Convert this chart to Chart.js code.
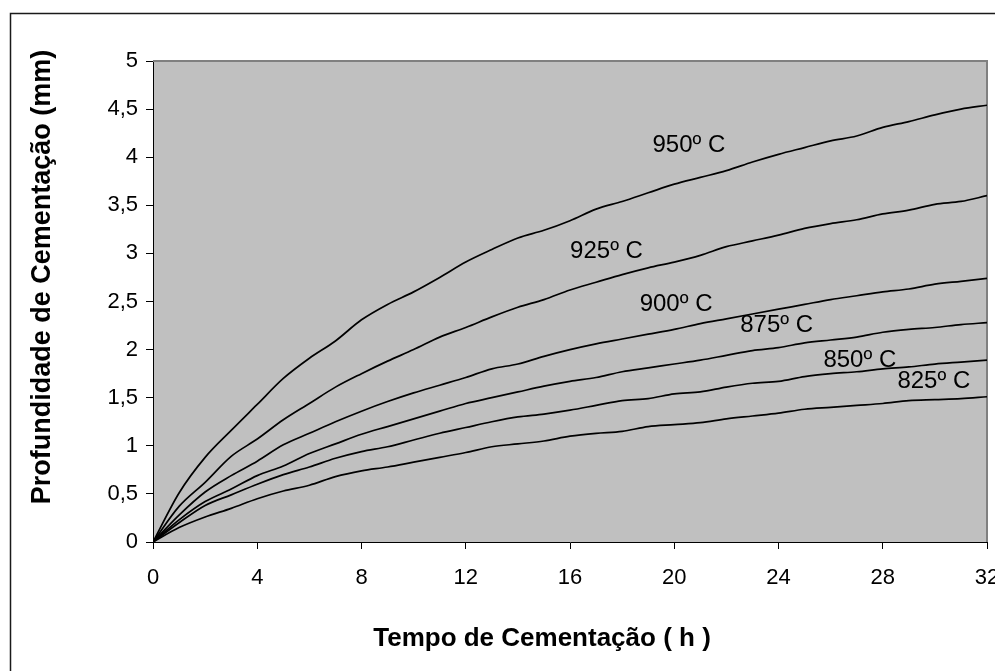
<!DOCTYPE html>
<html>
<head>
<meta charset="utf-8">
<script src="https://cdn.jsdelivr.net/npm/chart.js@4.4.1/dist/chart.umd.min.js"></script>
<style>
  html, body { margin: 0; padding: 0; background: #fff; }
  #wrap { width: 995px; height: 671px; overflow: hidden; }
</style>
</head>
<body>
<div id="wrap"><canvas id="c" width="995" height="671"></canvas></div>
<script>
// ---- data ----
const hours = [0,1,2,3,4,5,6,7,8,9,10,11,12,13,14,15,16,17,18,19,20,21,22,23,24,25,26,27,28,29,30,31,32];
const temp950 = [0,0.51,0.88,1.16,1.43,1.70,1.91,2.09,2.31,2.47,2.60,2.75,2.91,3.04,3.16,3.24,3.34,3.46,3.54,3.63,3.72,3.79,3.86,3.95,4.03,4.10,4.17,4.22,4.31,4.37,4.44,4.50,4.54];
const temp925 = [0,0.37,0.62,0.89,1.07,1.27,1.44,1.61,1.75,1.88,2.00,2.13,2.23,2.34,2.44,2.52,2.62,2.70,2.78,2.85,2.91,2.98,3.07,3.13,3.19,3.26,3.31,3.35,3.41,3.45,3.51,3.54,3.60];
const temp900 = [0,0.28,0.52,0.69,0.84,1.01,1.13,1.25,1.36,1.46,1.55,1.63,1.71,1.80,1.85,1.93,2.00,2.06,2.11,2.16,2.21,2.27,2.32,2.37,2.42,2.47,2.52,2.56,2.60,2.63,2.68,2.71,2.74];
const temp875 = [0,0.23,0.42,0.55,0.69,0.79,0.92,1.02,1.12,1.20,1.28,1.36,1.44,1.50,1.56,1.62,1.67,1.71,1.77,1.81,1.85,1.89,1.94,1.99,2.02,2.07,2.10,2.13,2.18,2.21,2.23,2.26,2.28];
const temp850 = [0,0.20,0.38,0.49,0.60,0.70,0.78,0.87,0.94,0.99,1.06,1.13,1.19,1.25,1.30,1.33,1.37,1.42,1.47,1.49,1.54,1.56,1.61,1.65,1.67,1.72,1.75,1.77,1.80,1.82,1.85,1.87,1.89];
const temp825 = [0,0.15,0.26,0.35,0.45,0.53,0.59,0.68,0.74,0.78,0.83,0.88,0.93,0.99,1.02,1.05,1.10,1.13,1.15,1.20,1.22,1.24,1.28,1.31,1.34,1.38,1.40,1.42,1.44,1.47,1.48,1.49,1.51];

const seriesNames = ['950º C','925º C','900º C','875º C','850º C','825º C'];
const seriesValues = [temp950, temp925, temp900, temp875, temp850, temp825];
// where each curve label sits, in data units (hours, mm)
const labelHours = [20.56, 17.4, 20.07, 23.93, 27.12, 29.96];
const labelDepths = [4.12, 3.025, 2.474, 2.256, 1.892, 1.674];

const xTickLabels = ['0','4','8','12','16','20','24','28','32'];
const yTickLabels = ['0','0,5','1','1,5','2','2,5','3','3,5','4','4,5','5'];
const xTitle = 'Tempo de Cementação ( h )';
const yTitle = 'Profundidade de Cementação (mm)';

const FONT = "'Liberation Sans', Arial, sans-serif";

const framePlugin = {
  id: 'frame',
  beforeDraw(chart) {
    const {ctx, chartArea: a} = chart;
    ctx.save();
    ctx.fillStyle = '#ffffff';
    ctx.fillRect(0, 0, chart.width, chart.height);
    ctx.fillStyle = '#C0C0C0';
    ctx.fillRect(a.left, a.top, a.right - a.left, a.bottom - a.top);
    // outer chart border (continues past the right and bottom edges)
    ctx.strokeStyle = '#1a1a1a';
    ctx.lineWidth = 1.5;
    ctx.beginPath();
    ctx.moveTo(10.5, chart.height + 5);
    ctx.lineTo(10.5, 13.5);
    ctx.lineTo(chart.width + 5, 13.5);
    ctx.stroke();
    ctx.restore();
  },
  beforeDatasetsDraw(chart) {
    const {ctx, chartArea: a} = chart;
    ctx.save();
    ctx.strokeStyle = '#808080';
    ctx.lineWidth = 2;
    ctx.beginPath();
    ctx.moveTo(a.left, a.top);
    ctx.lineTo(a.right, a.top);
    ctx.lineTo(a.right, a.bottom);
    ctx.stroke();
    ctx.restore();
  },
  afterDraw(chart) {
    const {ctx} = chart;
    const xs = chart.scales.x, ys = chart.scales.y;
    ctx.save();
    ctx.fillStyle = '#000';
    ctx.textAlign = 'center';
    ctx.textBaseline = 'middle';
    ctx.font = '24px ' + FONT;
    seriesNames.forEach((name, i) => {
      ctx.fillText(name, xs.getPixelForValue(labelHours[i]), ys.getPixelForValue(labelDepths[i]));
    });
    // axis titles
    ctx.font = 'bold 26px ' + FONT;
    ctx.fillText(xTitle, 542, 639);
    ctx.translate(43, 277);
    ctx.rotate(-Math.PI / 2);
    ctx.font = 'bold 27px ' + FONT;
    ctx.fillText(yTitle, 0, 0);
    ctx.restore();
  }
};

const datasets = seriesValues.map((vals, i) => ({
  label: seriesNames[i],
  data: hours.map((h, j) => ({x: h, y: vals[j]})),
  borderColor: '#000000',
  borderWidth: 1.7,
  pointRadius: 0,
  fill: false,
  cubicInterpolationMode: 'monotone'
}));

new Chart(document.getElementById('c'), {
  type: 'line',
  data: { datasets },
  options: {
    responsive: false,
    animation: false,
    devicePixelRatio: 1,
    layout: { padding: { top: 61, right: 8, bottom: 0, left: 0 } },
    plugins: { legend: { display: false }, tooltip: { enabled: false } },
    scales: {
      x: {
        type: 'linear',
        min: 0, max: 32,
        grid: { display: true, drawOnChartArea: false, drawTicks: true, tickLength: 7, color: '#000', lineWidth: 1 },
        border: { display: true, color: '#000', width: 1 },
        ticks: {
          stepSize: 4, autoSkip: false, maxRotation: 0, padding: 16,
          color: '#000', font: { family: FONT, size: 22 },
          callback: (v, i) => xTickLabels[i]
        },
        afterFit(s) { s.height = 129; s.paddingLeft = 0; s.paddingRight = 0; }
      },
      y: {
        min: 0, max: 5,
        grid: { display: true, drawOnChartArea: false, drawTicks: true, tickLength: 7, color: '#000', lineWidth: 1 },
        border: { display: true, color: '#000', width: 1 },
        ticks: {
          stepSize: 0.5, autoSkip: false, padding: 8,
          color: '#000', font: { family: FONT, size: 22 },
          callback: (v, i) => yTickLabels[i]
        },
        afterFit(s) { s.width = 153; s.paddingTop = 0; s.paddingBottom = 0; }
      }
    }
  },
  plugins: [framePlugin]
});
</script>
</body>
</html>
